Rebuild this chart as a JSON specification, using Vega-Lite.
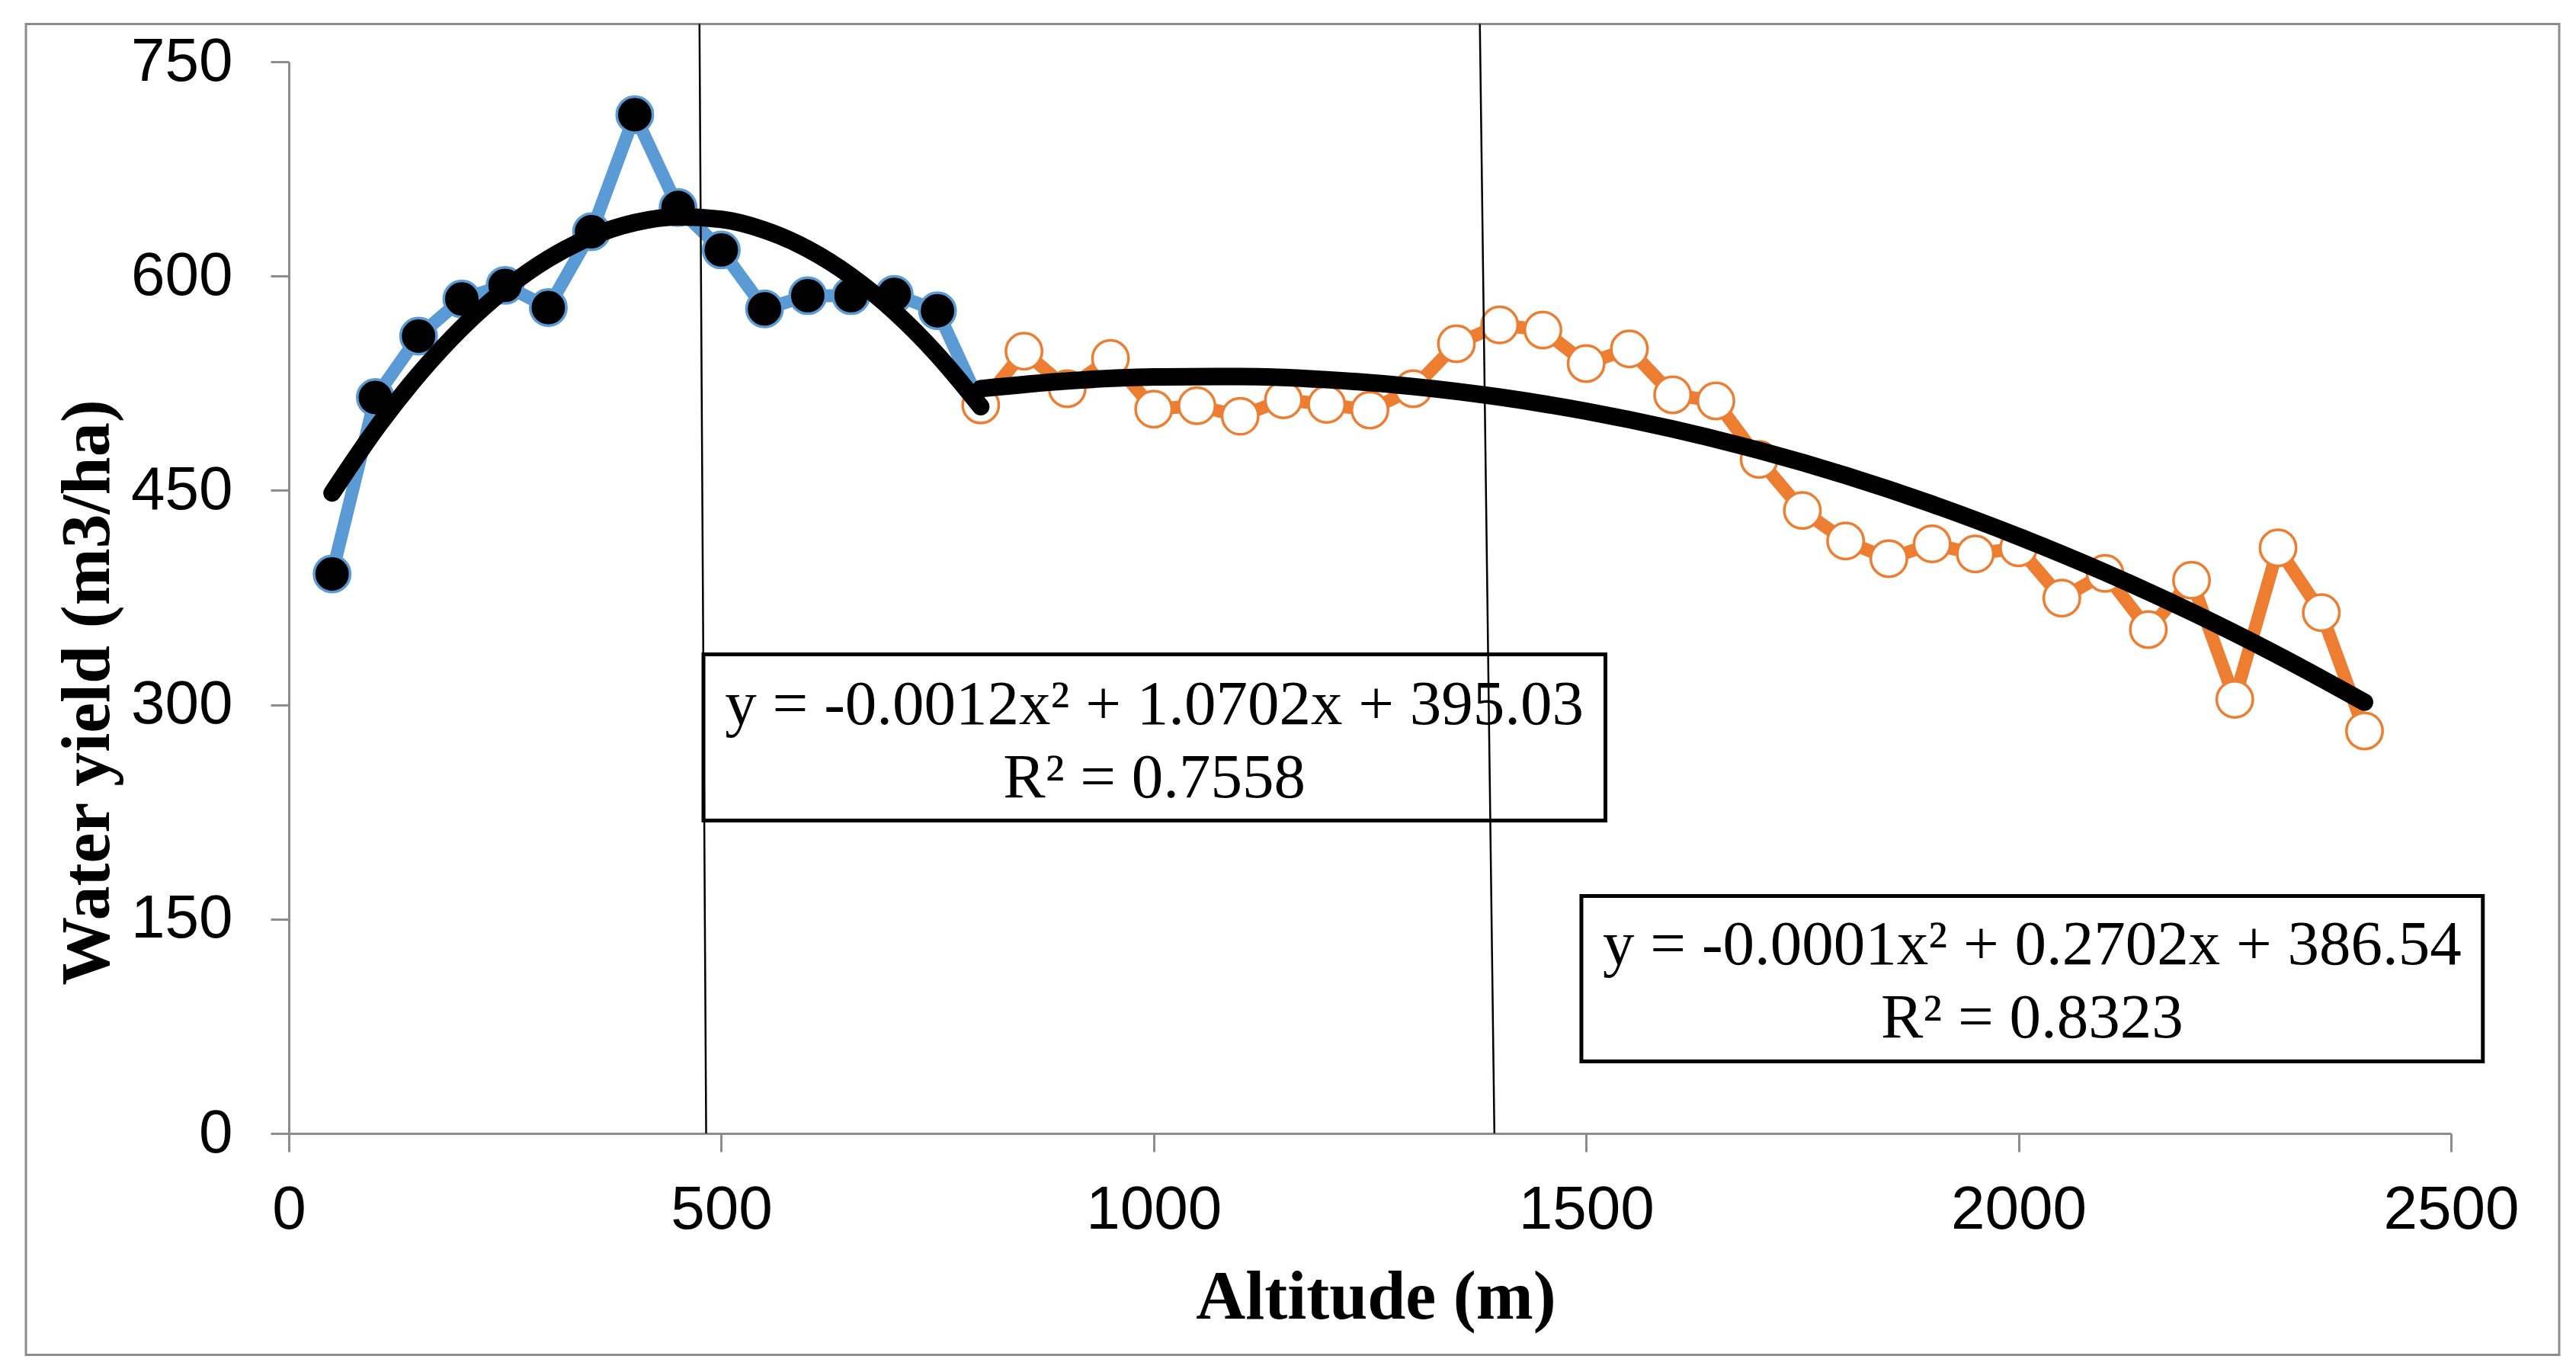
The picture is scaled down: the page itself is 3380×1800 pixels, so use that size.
{
  "$schema": "https://vega.github.io/schema/vega-lite/v6.json",
  "autosize": {"type": "none"},
  "width": 2837,
  "height": 1406,
  "padding": {"left": 379, "top": 81, "right": 164, "bottom": 313},
  "background": "white",
  "datasets": {
    "low": [
      {"alt": 50, "wy": 391.5}, {"alt": 100, "wy": 515}, {"alt": 150, "wy": 558},
      {"alt": 200, "wy": 584}, {"alt": 250, "wy": 593.5}, {"alt": 300, "wy": 578},
      {"alt": 350, "wy": 631}, {"alt": 400, "wy": 712.9}, {"alt": 450, "wy": 648},
      {"alt": 500, "wy": 618.3}, {"alt": 550, "wy": 577}, {"alt": 600, "wy": 586.3},
      {"alt": 650, "wy": 586.3}, {"alt": 700, "wy": 587.2}, {"alt": 750, "wy": 575.7},
      {"alt": 800, "wy": 509.8}
    ],
    "high": [
      {"alt": 800, "wy": 509.8}, {"alt": 850, "wy": 547.4}, {"alt": 900, "wy": 521.2},
      {"alt": 950, "wy": 542.4}, {"alt": 1000, "wy": 506.9}, {"alt": 1050, "wy": 509.3},
      {"alt": 1100, "wy": 501.9}, {"alt": 1150, "wy": 513.4}, {"alt": 1200, "wy": 510.2},
      {"alt": 1250, "wy": 506.2}, {"alt": 1300, "wy": 521.2}, {"alt": 1350, "wy": 552.6},
      {"alt": 1400, "wy": 565.8}, {"alt": 1450, "wy": 562.2}, {"alt": 1500, "wy": 538.8},
      {"alt": 1550, "wy": 549.0}, {"alt": 1600, "wy": 516.9}, {"alt": 1650, "wy": 512.6},
      {"alt": 1700, "wy": 471.7}, {"alt": 1750, "wy": 436.0}, {"alt": 1800, "wy": 414.6},
      {"alt": 1850, "wy": 402.2}, {"alt": 1900, "wy": 412.6}, {"alt": 1950, "wy": 405.5},
      {"alt": 2000, "wy": 409.8}, {"alt": 2050, "wy": 374.6}, {"alt": 2100, "wy": 391.9},
      {"alt": 2150, "wy": 352.6}, {"alt": 2200, "wy": 387.1}, {"alt": 2250, "wy": 303.8},
      {"alt": 2300, "wy": 409.8}, {"alt": 2350, "wy": 364.5}, {"alt": 2400, "wy": 281.7}
    ],
    "trend": [
      {"fit": "low", "alt": 50, "wy": 448.2}, {"fit": "low", "alt": 100, "wy": 492.5},
      {"fit": "low", "alt": 150, "wy": 531.0}, {"fit": "low", "alt": 200, "wy": 563.8},
      {"fit": "low", "alt": 250, "wy": 590.8}, {"fit": "low", "alt": 300, "wy": 612.1},
      {"fit": "low", "alt": 350, "wy": 627.6}, {"fit": "low", "alt": 400, "wy": 637.4},
      {"fit": "low", "alt": 450, "wy": 641.4}, {"fit": "low", "alt": 500, "wy": 639.7},
      {"fit": "low", "alt": 550, "wy": 632.2}, {"fit": "low", "alt": 600, "wy": 619.0},
      {"fit": "low", "alt": 650, "wy": 600.0}, {"fit": "low", "alt": 700, "wy": 575.3},
      {"fit": "low", "alt": 750, "wy": 544.8}, {"fit": "low", "alt": 800, "wy": 508.6},
      {"fit": "high", "alt": 800, "wy": 521.2}, {"fit": "high", "alt": 900, "wy": 526.6},
      {"fit": "high", "alt": 1000, "wy": 529.4}, {"fit": "high", "alt": 1100, "wy": 529.7},
      {"fit": "high", "alt": 1200, "wy": 527.5}, {"fit": "high", "alt": 1300, "wy": 522.7},
      {"fit": "high", "alt": 1400, "wy": 515.3}, {"fit": "high", "alt": 1500, "wy": 505.4},
      {"fit": "high", "alt": 1600, "wy": 493.0}, {"fit": "high", "alt": 1700, "wy": 478.0},
      {"fit": "high", "alt": 1800, "wy": 460.5}, {"fit": "high", "alt": 1900, "wy": 440.4},
      {"fit": "high", "alt": 2000, "wy": 417.7}, {"fit": "high", "alt": 2100, "wy": 392.6},
      {"fit": "high", "alt": 2200, "wy": 364.9}, {"fit": "high", "alt": 2300, "wy": 334.6},
      {"fit": "high", "alt": 2400, "wy": 301.8}
    ],
    "boxes": [
      {"alt": 479.4, "alt2": 1522.3, "wy": 335.3, "wy2": 219.0},
      {"alt": 1494.5, "alt2": 2536.8, "wy": 166.2, "wy2": 50.4}
    ],
    "notes": [
      {"alt": 1000.8, "wy": 286.4, "label": "y = -0.0012x² + 1.0702x + 395.03"},
      {"alt": 1000.8, "wy": 235.5, "label": "R² = 0.7558"},
      {"alt": 2015.7, "wy": 118.2, "label": "y = -0.0001x² + 0.2702x + 386.54"},
      {"alt": 2015.7, "wy": 67.0, "label": "R² = 0.8323"}
    ],
    "rules": [
      {"alt": 474.8, "wy": 776.4, "alt2": 482.5, "wy2": 0},
      {"alt": 1377.1, "wy": 776.4, "alt2": 1393.9, "wy2": 0}
    ],
    "frame": [
      {"alt": -304, "alt2": 2625.1, "wy": 776.4, "wy2": -155}
    ]
  },
  "encoding": {
    "x": {
      "field": "alt",
      "type": "quantitative",
      "scale": {"domain": [0, 2500], "nice": false, "zero": false},
      "axis": {
        "title": "Altitude (m)",
        "values": [0, 500, 1000, 1500, 2000, 2500],
        "format": "d",
        "grid": false,
        "labelFlush": false,
        "labelOverlap": false,
        "labelLimit": 1000,
        "labelFont": "Liberation Sans",
        "labelFontSize": 80,
        "labelColor": "#000000",
        "labelPadding": 37,
        "domainColor": "#8C8C8C",
        "domainWidth": 3,
        "tickColor": "#8C8C8C",
        "tickWidth": 3,
        "tickSize": 24,
        "titleFont": "Liberation Serif",
        "titleFontWeight": "bold",
        "titleFontSize": 90,
        "titleColor": "#000000",
        "titleBaseline": "alphabetic",
        "titleX": 1426,
        "titleY": 242
      }
    },
    "y": {
      "field": "wy",
      "type": "quantitative",
      "scale": {"domain": [0, 750], "nice": false},
      "axis": {
        "title": "Water yield (m3/ha)",
        "values": [0, 150, 300, 450, 600, 750],
        "format": "d",
        "grid": false,
        "labelOverlap": false,
        "labelLimit": 1000,
        "labelFont": "Liberation Sans",
        "labelFontSize": 80,
        "labelColor": "#000000",
        "labelPadding": 50,
        "domainColor": "#8C8C8C",
        "domainWidth": 3,
        "tickColor": "#8C8C8C",
        "tickWidth": 3,
        "tickSize": 24,
        "titleFont": "Liberation Serif",
        "titleFontWeight": "bold",
        "titleFontSize": 90,
        "titleColor": "#000000",
        "titleAngle": 270,
        "titleAlign": "center",
        "titleBaseline": "alphabetic",
        "titleX": -237,
        "titleY": 827
      }
    }
  },
  "layer": [
    {
      "data": {"name": "frame"},
      "mark": {"type": "rect", "fill": null, "stroke": "#8C8C8C", "strokeWidth": 3},
      "encoding": {"x2": {"field": "alt2"}, "y2": {"field": "wy2"}}
    },
    {
      "data": {"name": "low"},
      "mark": {"type": "line", "color": "#5B9BD5", "strokeWidth": 17, "strokeJoin": "round"}
    },
    {
      "data": {"name": "low"},
      "transform": [{"filter": "datum.alt <= 750"}],
      "mark": {"type": "point", "shape": "circle", "filled": true, "fill": "#000000", "stroke": "#5B9BD5", "strokeWidth": 3.5, "size": 2250, "opacity": 1}
    },
    {
      "data": {"name": "high"},
      "mark": {"type": "line", "color": "#ED7D31", "strokeWidth": 17, "strokeJoin": "round"}
    },
    {
      "data": {"name": "high"},
      "mark": {"type": "point", "shape": "circle", "filled": true, "fill": "#FFFFFF", "stroke": "#ED7D31", "strokeWidth": 3.5, "size": 2250, "opacity": 1}
    },
    {
      "data": {"name": "trend"},
      "mark": {"type": "line", "color": "#000000", "strokeWidth": 23, "strokeCap": "round", "interpolate": "monotone"},
      "encoding": {"detail": {"field": "fit"}}
    },
    {
      "data": {"name": "boxes"},
      "mark": {"type": "rect", "fill": "#FFFFFF", "stroke": "#000000", "strokeWidth": 5},
      "encoding": {"x2": {"field": "alt2"}, "y2": {"field": "wy2"}}
    },
    {
      "data": {"name": "notes"},
      "mark": {"type": "text", "font": "Liberation Serif", "fontSize": 83, "align": "center", "baseline": "alphabetic", "color": "#000000"},
      "encoding": {"text": {"field": "label"}}
    },
    {
      "data": {"name": "rules"},
      "mark": {"type": "rule", "color": "#000000", "strokeWidth": 2.5},
      "encoding": {"x2": {"field": "alt2"}, "y2": {"field": "wy2"}}
    }
  ],
  "config": {
    "view": {"stroke": null}
  }
}
